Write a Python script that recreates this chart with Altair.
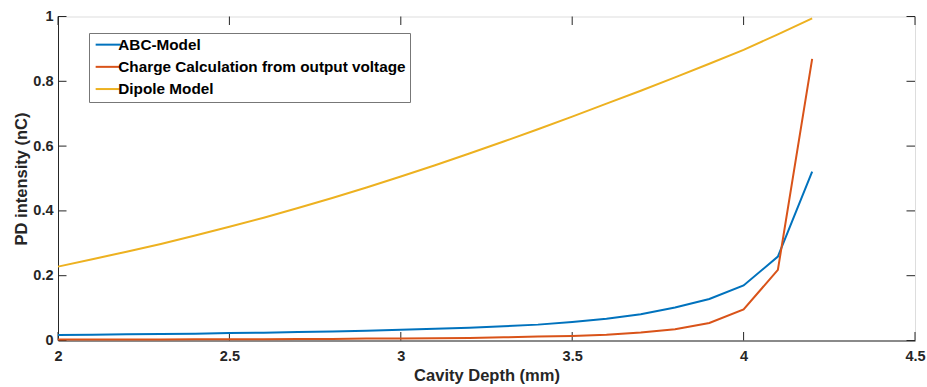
import altair as alt
import pandas as pd

# Cavity depth samples (mm)
depth = [2.0, 2.1, 2.2, 2.3, 2.4, 2.5, 2.6, 2.7, 2.8, 2.9, 3.0, 3.1,
         3.2, 3.3, 3.4, 3.5, 3.6, 3.7, 3.8, 3.9, 4.0, 4.1, 4.2]

# PD intensity (nC) for each model
abc_model = [0.017, 0.018, 0.019, 0.020, 0.021, 0.023, 0.024, 0.026, 0.028,
             0.030, 0.033, 0.036, 0.039, 0.044, 0.049, 0.057, 0.067, 0.081,
             0.102, 0.128, 0.170, 0.259, 0.521]
charge_calc = [0.003, 0.003, 0.003, 0.003, 0.004, 0.004, 0.004, 0.005, 0.005,
               0.006, 0.006, 0.007, 0.008, 0.010, 0.012, 0.014, 0.018, 0.025,
               0.035, 0.054, 0.096, 0.218, 0.869]
dipole_model = [0.228, 0.251, 0.274, 0.298, 0.324, 0.351, 0.379, 0.409, 0.440,
                0.472, 0.506, 0.541, 0.577, 0.614, 0.652, 0.691, 0.731, 0.771,
                0.812, 0.854, 0.897, 0.945, 0.994]

series_names = ["ABC-Model", "Charge Calculation from output voltage", "Dipole Model"]
series_colors = ["#0072BD", "#D95319", "#EDB120"]

x_ticks = [2.0, 2.5, 3.0, 3.5, 4.0, 4.5]
y_ticks = [0.0, 0.2, 0.4, 0.6, 0.8, 1.0]

W, H = 857, 324
TICK = 8.5
FONT = "Liberation Sans"
INK = "#262626"

rows = []
for name, vals in zip(series_names, [abc_model, charge_calc, dipole_model]):
    for d, v in zip(depth, vals):
        rows.append({"depth": d, "value": v, "series": name})
df = pd.DataFrame(rows)

x_scale = alt.Scale(domain=[2, 4.5], nice=False, zero=False)
y_scale = alt.Scale(domain=[0, 1], nice=False)

axis_style = dict(
    ticks=False, grid=False, domainColor=INK, domainWidth=1,
    labelFont=FONT, labelFontSize=14.5, labelFontWeight="bold", labelColor=INK,
    titleFont=FONT, titleFontSize=16.5, titleFontWeight="bold", titleColor=INK,
    format="~g",
)
x_axis = alt.Axis(values=x_ticks, labelPadding=9, title="Cavity Depth (mm)",
                  titlePadding=4, labelFlush=False, **axis_style)
y_axis = alt.Axis(values=y_ticks, labelPadding=5, title="PD intensity (nC)",
                  titlePadding=3, **axis_style)

# short horizontal stroke drawn to the right of the symbol anchor
legend_stroke = "M-1,0H4"

lines = alt.Chart(df).mark_line(strokeWidth=2).encode(
    x=alt.X("depth:Q", scale=x_scale, axis=x_axis),
    y=alt.Y("value:Q", scale=y_scale, axis=y_axis),
    color=alt.Color("series:N",
                    scale=alt.Scale(domain=series_names, range=series_colors),
                    legend=alt.Legend(title=None, orient="none", legendX=31, legendY=16.5,
                                      symbolType=legend_stroke, symbolSize=100,
                                      symbolStrokeWidth=2, labelFont=FONT,
                                      labelFontSize=15.3, labelFontWeight="bold",
                                      labelColor="black", labelOffset=10,
                                      rowPadding=6.2, padding=4,
                                      strokeColor="#777777", fillColor="white",
                                      labelLimit=400)),
)

xt = pd.DataFrame({"t": x_ticks})
yt = pd.DataFrame({"t": y_ticks})

bottom_ticks = alt.Chart(xt).mark_rule(color=INK, strokeWidth=1).encode(
    x=alt.X("t:Q", scale=x_scale), y=alt.value(H), y2=alt.value(H - TICK))
top_ticks = alt.Chart(xt).mark_rule(color=INK, strokeWidth=1).encode(
    x=alt.X("t:Q", scale=x_scale), y=alt.value(0), y2=alt.value(TICK))
left_ticks = alt.Chart(yt).mark_rule(color=INK, strokeWidth=1).encode(
    y=alt.Y("t:Q", scale=y_scale), x=alt.value(0), x2=alt.value(TICK))
right_ticks = alt.Chart(yt).mark_rule(color=INK, strokeWidth=1).encode(
    y=alt.Y("t:Q", scale=y_scale), x=alt.value(W), x2=alt.value(W - TICK))

chart = alt.layer(bottom_ticks, top_ticks, left_ticks, right_ticks, lines).properties(
    width=W, height=H,
    autosize=alt.AutoSizeParams(type="none"),
    padding={"left": 58, "top": 16.5, "right": 12, "bottom": 46},
).configure_view(
    stroke=INK, strokeWidth=1,
).configure(background="white")

chart.save("out.html", embed_options={"renderer": "svg", "actions": False})
